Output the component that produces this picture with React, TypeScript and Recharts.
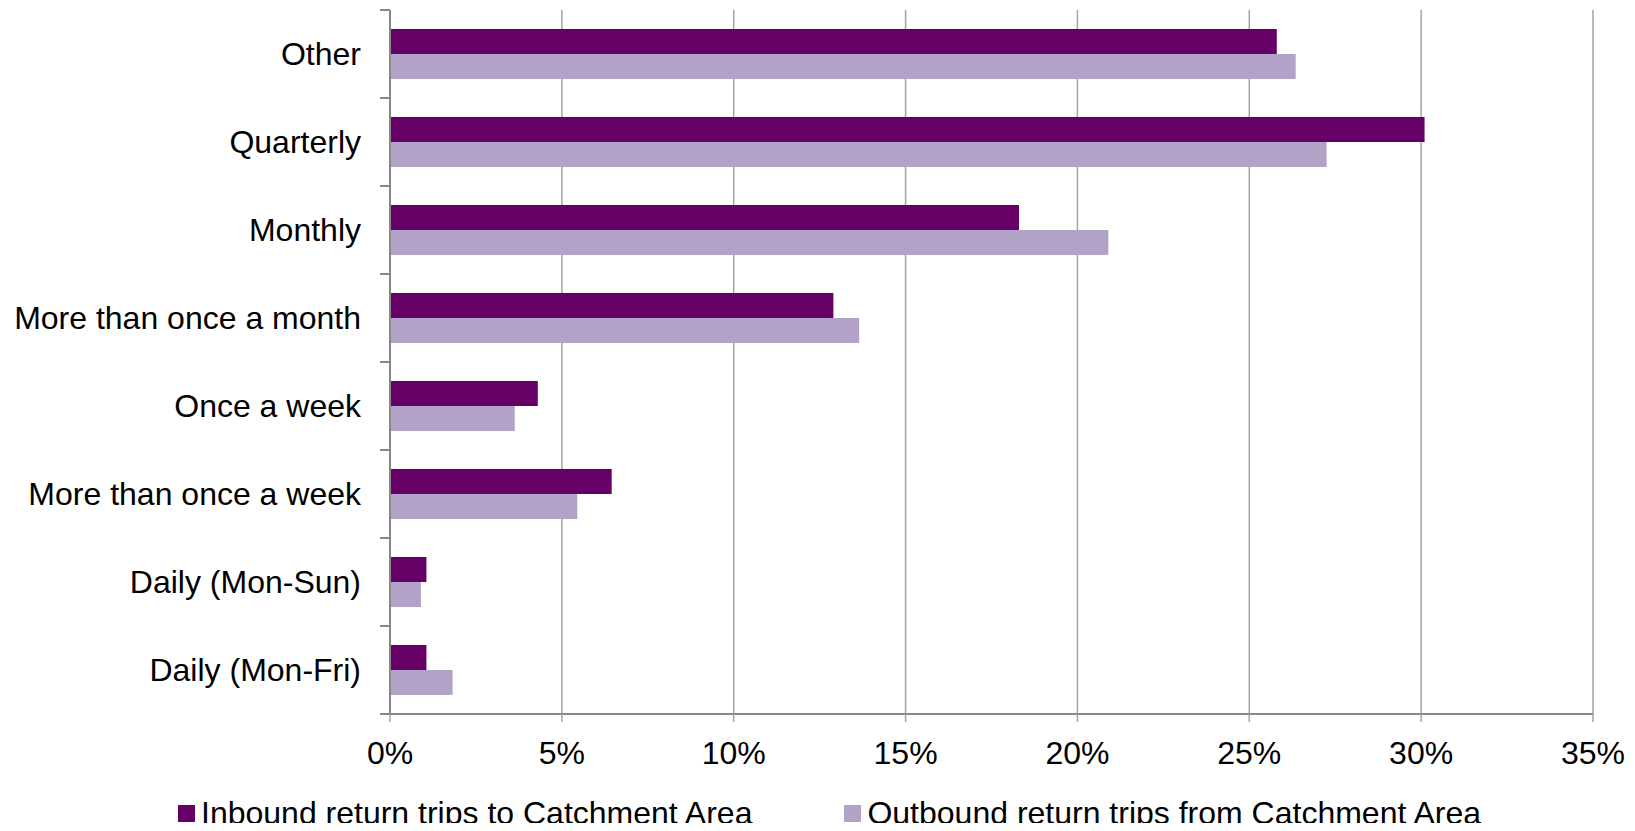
import { BarChart, Bar, XAxis, YAxis, CartesianGrid, Legend } from 'recharts';

const categories = [
  'Other',
  'Quarterly',
  'Monthly',
  'More than once a month',
  'Once a week',
  'More than once a week',
  'Daily (Mon-Sun)',
  'Daily (Mon-Fri)',
];
const inbound = [25.8, 30.1, 18.3, 12.9, 4.3, 6.45, 1.06, 1.06];
const outbound = [26.35, 27.25, 20.9, 13.65, 3.63, 5.45, 0.9, 1.82];
const xTicks = [0, 5, 10, 15, 20, 25, 30, 35];

const INBOUND_NAME = 'Inbound return trips to Catchment Area';
const OUTBOUND_NAME = 'Outbound return trips from Catchment Area';
const INBOUND_COLOR = '#660066';
const OUTBOUND_COLOR = '#B3A2C7';
const AXIS_COLOR = '#878787';
const GRID_COLOR = '#a3a3a3';
const FONT = '"Liberation Sans", Arial, sans-serif';
const FONT_SIZE = 32;

const data = categories.map((name, i) => ({
  name,
  inbound: inbound[i],
  outbound: outbound[i],
}));

const Y_TICK_SIZE = 10;
const Y_TICK_MARGIN = 19;

interface TickProps {
  x?: number;
  y?: number;
  index?: number;
  payload?: { value: string; offset?: number };
}

// Excel-style: labels centred on the band, tick marks on the band edges
function CategoryTick({ x = 0, y = 0, index = 0, payload }: TickProps) {
  const half = payload?.offset ?? 44;
  const x1 = x + Y_TICK_MARGIN;
  const x2 = x1 + Y_TICK_SIZE;
  return (
    <g>
      <line x1={x1} x2={x2} y1={y - half} y2={y - half} stroke={AXIS_COLOR} strokeWidth={2} />
      {index === categories.length - 1 && (
        <line x1={x1} x2={x2} y1={y + half} y2={y + half} stroke={AXIS_COLOR} strokeWidth={2} />
      )}
      <text x={x} y={y} dy="0.33em" textAnchor="end" fill="#000" fontSize={FONT_SIZE} fontFamily={FONT}>
        {payload?.value}
      </text>
    </g>
  );
}

function LegendContent() {
  const items = [
    { name: INBOUND_NAME, color: INBOUND_COLOR },
    { name: OUTBOUND_NAME, color: OUTBOUND_COLOR },
  ];
  return (
    <div style={{ height: 57, position: 'relative' }}>
      <div
        style={{
          position: 'absolute',
          top: 23,
          left: 170,
          display: 'flex',
          alignItems: 'center',
          fontFamily: FONT,
          fontSize: FONT_SIZE,
          lineHeight: '33px',
          color: '#000',
          whiteSpace: 'nowrap',
        }}
      >
        {items.map((it, i) => (
          <div key={it.name} style={{ display: 'flex', alignItems: 'center', marginLeft: i ? 92 : 0 }}>
            <span style={{ width: 17, height: 17, background: it.color, marginRight: 6, display: 'inline-block' }} />
            <span>{it.name}</span>
          </div>
        ))}
      </div>
    </div>
  );
}

export default function App() {
  return (
    <div style={{ width: 1620, height: 823, marginBottom: -8 }}>
      <BarChart
        width={1620}
        height={823}
        data={data}
        layout="vertical"
        margin={{ top: 2, right: 35, bottom: 0, left: 0 }}
        barCategoryGap="21.6%"
        barGap={0}
      >
        <CartesianGrid horizontal={false} stroke={GRID_COLOR} strokeWidth={1.5} />
        <XAxis
          type="number"
          domain={[0, 35]}
          ticks={xTicks}
          tickFormatter={(v: number) => `${v}%`}
          tick={{ fill: '#000', fontSize: FONT_SIZE, fontFamily: FONT }}
          axisLine={{ stroke: AXIS_COLOR, strokeWidth: 2 }}
          tickLine={{ stroke: GRID_COLOR, strokeWidth: 1.5 }}
          tickSize={8}
          tickMargin={19}
          height={60}
          interval={0}
        />
        <YAxis
          type="category"
          dataKey="name"
          width={382}
          tick={<CategoryTick />}
          tickLine={false}
          tickSize={Y_TICK_SIZE}
          tickMargin={Y_TICK_MARGIN}
          axisLine={{ stroke: AXIS_COLOR, strokeWidth: 2 }}
          interval={0}
        />
        <Legend verticalAlign="bottom" content={<LegendContent />} wrapperStyle={{ left: 0, width: 1620 }} />
        <Bar dataKey="inbound" name={INBOUND_NAME} fill={INBOUND_COLOR} isAnimationActive={false} />
        <Bar dataKey="outbound" name={OUTBOUND_NAME} fill={OUTBOUND_COLOR} isAnimationActive={false} />
      </BarChart>
    </div>
  );
}
